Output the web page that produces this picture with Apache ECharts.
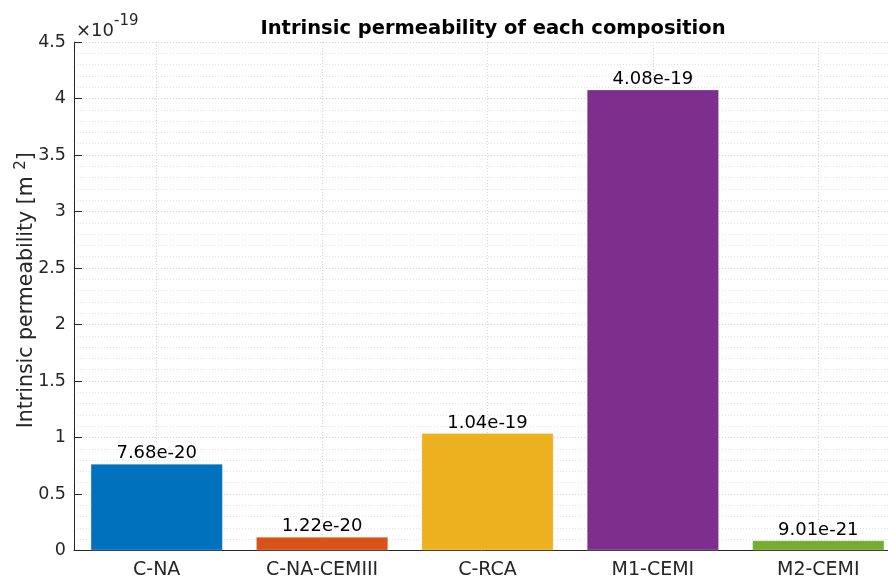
<!DOCTYPE html>
<html>
<head>
<meta charset="utf-8">
<script src="https://cdn.jsdelivr.net/npm/echarts@6/dist/echarts.min.js"></script>
<style>html,body{margin:0;padding:0;background:#fff}#c{width:888px;height:579px}</style>
</head>
<body>
<div id="c"></div>
<script>
const categories = ['C-NA', 'C-NA-CEMIII', 'C-RCA', 'M1-CEMI', 'M2-CEMI'];
const permeability = [7.68e-20, 1.22e-20, 1.04e-19, 4.08e-19, 9.01e-21];
const barColors = ['#0072BD', '#D95319', '#EDB120', '#7E2F8E', '#77AC30'];
const yScale = 1e19;
const yTicks = { min: 0, max: 4.5, interval: 0.5 };

const FONT = '"DejaVu Sans", sans-serif';
const gridTop = 42, gridBottom = 579 - 550.5, gridLeft = 74, gridWidth = 827;
const catW = gridWidth / categories.length;

const chart = echarts.init(document.getElementById('c'), null, { renderer: 'canvas' });
chart.setOption({
  animation: false,
  backgroundColor: '#ffffff',
  title: {
    text: 'Intrinsic permeability of each composition',
    left: 488, top: 14, textAlign: 'center',
    textStyle: { fontFamily: FONT, fontSize: 19.5, fontWeight: 'bold', color: '#000' }
  },
  graphic: [{
    type: 'text', left: 76, top: 14,
    style: {
      text: '{a|×10}{b|-19}',
      rich: {
        a: { fontFamily: FONT, fontSize: 18, fill: '#262626', padding: [8, 0, 0, 0] },
        b: { fontFamily: FONT, fontSize: 15, fill: '#262626', verticalAlign: 'top' }
      }
    }
  }],
  grid: [
    { left: gridLeft, width: gridWidth, top: gridTop, bottom: gridBottom, containLabel: false, outerBoundsMode: 'none' },
    { left: gridLeft + catW / 2, width: gridWidth, top: gridTop, bottom: gridBottom, containLabel: false, outerBoundsMode: 'none' }
  ],
  xAxis: [{
    type: 'category', data: categories, gridIndex: 0, boundaryGap: true,
    axisLine: { lineStyle: { color: '#262626', width: 1 } },
    axisTick: { show: false },
    splitLine: { show: false },
    axisLabel: { fontFamily: FONT, fontSize: 19, color: '#262626', margin: 10 }
  }, {
    type: 'value', gridIndex: 1, min: 0, max: categories.length, interval: 1,
    axisLine: { show: false }, axisTick: { show: false }, axisLabel: { show: false },
    splitLine: { show: true, lineStyle: { color: '#d4d4d4', type: [1, 2], width: 1 } }
  }],
  yAxis: [{
    type: 'value', gridIndex: 0, min: yTicks.min, max: yTicks.max, interval: yTicks.interval,
    name: 'Intrinsic permeability [m {sup|2}]',
    nameLocation: 'middle', nameRotate: 90, nameGap: 35, nameMoveOverlap: false,
    nameTextStyle: {
      fontFamily: FONT, fontSize: 20.5, color: '#262626', padding: [0, 0, 0, 12],
      rich: { sup: { fontFamily: FONT, fontSize: 15, color: '#262626', verticalAlign: 'top', padding: [0, 0, 10, 0] } }
    },
    axisLine: { show: true, lineStyle: { color: '#262626', width: 1 } },
    axisTick: { show: true, inside: true, length: 8, lineStyle: { color: '#262626' } },
    axisLabel: { fontFamily: FONT, fontSize: 17.5, color: '#262626', margin: 8 },
    splitLine: { show: true, lineStyle: { color: '#d4d4d4', type: [1, 2], width: 1 } },
    minorTick: { show: false, splitNumber: 5 },
    minorSplitLine: { show: true, lineStyle: { color: '#e2e2e2', type: [1, 2], width: 1 } }
  }, {
    type: 'value', gridIndex: 1, min: 0, max: 1, show: false,
    splitLine: { show: false }
  }],
  series: [{
    type: 'bar',
    xAxisIndex: 0, yAxisIndex: 0,
    barWidth: '80%',
    z: 3,
    data: permeability.map((v, i) => ({
      value: v * yScale,
      itemStyle: { color: barColors[i], borderColor: 'rgba(255,255,255,0.25)', borderWidth: 1 }
    })),
    label: {
      show: true, position: 'top', distance: 1,
      fontFamily: FONT, fontSize: 18, color: '#000',
      formatter: p => permeability[p.dataIndex].toExponential(2)
    }
  }]
});
</script>
</body>
</html>
